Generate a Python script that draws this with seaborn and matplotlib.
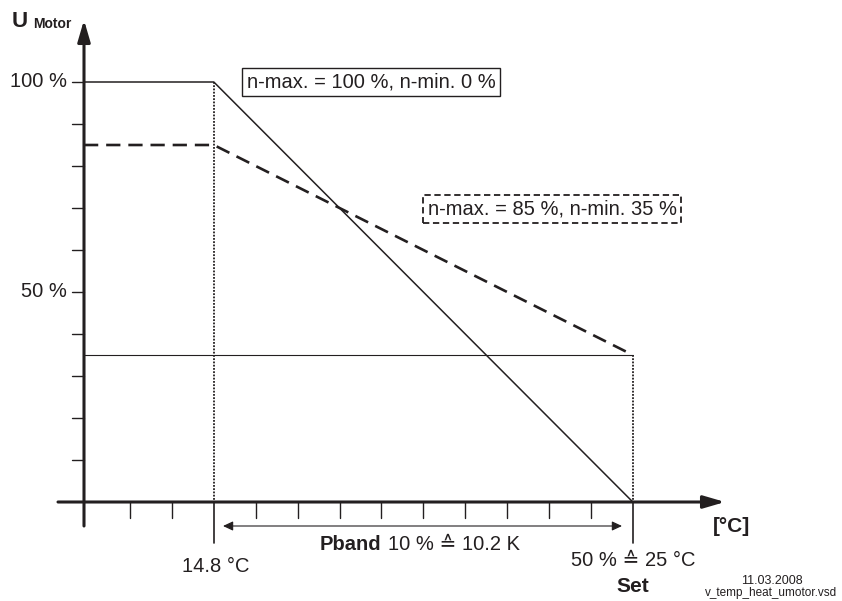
import matplotlib
matplotlib.use("Agg")
import matplotlib.pyplot as plt
import seaborn as sns
import pandas as pd

# Kennlinie U_Motor ueber Temperatur (Heizen)
t_axis = 11.64            # °C an der U-Achse
t_pband_start = 14.8      # Beginn P-Band
t_set = 25.0              # Sollwert
curve_temps = [t_axis, t_pband_start, t_set]
u_full = [100, 100, 0]        # n-max. = 100 %, n-min. 0 %
u_reduced = [85, 85, 35]      # n-max. = 85 %, n-min. 35 %
u_min_reduced = 35
y_ticks = [10, 20, 30, 40, 50, 60, 70, 80, 90, 100]
y_tick_labels = {100: "100 %", 50: "50 %"}
x_ticks = [12.76, 13.78, 15.82, 16.84, 17.86, 18.88, 19.90, 20.92, 21.94, 22.96, 23.98]
x_long_ticks = [t_pband_start, t_set]

DARK = "#231f20"
W, H = 842, 601
PX_K, PX_U = 41.08, 4.2     # pixel pro K / pro %
X0, Y0 = 84, 502            # Ursprung in Pixeln

def px2x(p):
    return t_axis + (p - X0) / PX_K

def px2y(p):
    return (Y0 - p) / PX_U

sns.set_style("white")
plt.rcParams["font.family"] = ["Liberation Sans", "DejaVu Sans"]

fig = plt.figure(figsize=(W / 100, H / 100), dpi=100)
ax = fig.add_axes([0, 0, 1, 1])
ax.set_xlim(px2x(0), px2x(W))
ax.set_ylim(px2y(H), px2y(0))
ax.axis("off")

df = pd.DataFrame({"temp": curve_temps, "full": u_full, "reduced": u_reduced})

# Kennlinien
sns.lineplot(data=df, x="temp", y="full", color=DARK, lw=1.1, estimator=None, sort=False, ax=ax)
sns.lineplot(data=df, x="temp", y="reduced", color=DARK, lw=1.9, estimator=None, sort=False, ax=ax)
ax.lines[-1].set_dashes([5.4, 3.0])
ax.plot([t_axis, t_set], [u_min_reduced, u_min_reduced], color=DARK, lw=0.8)

# gepunktete Hilfslinien
ax.plot([t_pband_start, t_pband_start], [u_full[1], 0], color=DARK, lw=1.3, ls=(0, (1, 0.8)))
ax.plot([t_set, t_set], [u_reduced[2], 0], color=DARK, lw=1.3, ls=(0, (1, 0.8)))

# Achsen mit Pfeilen
arrow_kw = dict(arrowstyle="-|>,head_length=1.3,head_width=0.38", mutation_scale=10,
                lw=2.2, color=DARK, shrinkA=0, shrinkB=0)
ax.annotate("", xy=(px2x(725), 0), xytext=(px2x(58), 0), arrowprops=arrow_kw)
ax.annotate("", xy=(t_axis, px2y(20)), xytext=(t_axis, px2y(526)), arrowprops=arrow_kw)

# Teilstriche
for u in y_ticks:
    ax.plot([px2x(72), t_axis], [u, u], color=DARK, lw=1)
for t in x_ticks:
    ax.plot([t, t], [0, px2y(518)], color=DARK, lw=1)
for t in x_long_ticks:
    ax.plot([t, t], [0, px2y(543)], color=DARK, lw=1.2)

fs = 14.5
for u, lab in y_tick_labels.items():
    ax.text(px2x(67), u, lab, ha="right", va="center", fontsize=fs, color=DARK)

# P-Band Pfeil
ax.annotate("", xy=(px2x(622), px2y(526)), xytext=(px2x(223), px2y(526)),
            arrowprops=dict(arrowstyle="<|-|>,head_length=0.6,head_width=0.28", mutation_scale=10,
                            lw=0.8, color=DARK, shrinkA=0, shrinkB=0))
ax.text(px2x(381), px2y(545), "Pband", ha="right", va="center", fontsize=fs,
        fontweight="bold", color=DARK)
ax.text(px2x(388), px2y(545), "10 % \u2259 10.2 K", ha="left", va="center", fontsize=fs, color=DARK)

ax.text(t_pband_start + 0.05, px2y(566), "14.8 °C", ha="center", va="center", fontsize=fs, color=DARK)
ax.text(t_set, px2y(560), "50 % \u2259 25 °C", ha="center", va="center", fontsize=fs, color=DARK)
ax.text(t_set, px2y(586), "Set", ha="center", va="center", fontsize=15, fontweight="bold", color=DARK)

# Beschriftungskästen
ax.text(px2x(371), px2y(82), "n-max. = 100 %, n-min. 0 %", ha="center", va="center",
        fontsize=fs, color=DARK,
        bbox=dict(boxstyle="square,pad=0.24", fc="white", ec=DARK, lw=1))
ax.text(px2x(552), px2y(209), "n-max. = 85 %, n-min. 35 %", ha="center", va="center",
        fontsize=fs, color=DARK,
        bbox=dict(boxstyle="square,pad=0.22", fc="white", ec=DARK, lw=1.3, ls=(0, (3.5, 2))))

# Achsenbeschriftungen
fig.text(12 / W, 1 - 27 / H, "U", ha="left", va="baseline", fontsize=16, fontweight="bold", color=DARK)
fig.text(33 / W, 1 - 28 / H, "Motor", ha="left", va="baseline", fontsize=10, fontweight="bold", color=DARK)
fig.text(732 / W, 1 - 527 / H, "[°C]", ha="center", va="center", fontsize=15, fontweight="bold", color=DARK)

fig.text(772 / W, 1 - 581 / H, "11.03.2008", ha="center", va="center", fontsize=9, color=DARK)
fig.text(771 / W, 1 - 596 / H, "v_temp_heat_umotor.vsd", ha="center", va="baseline", fontsize=8.5, color=DARK)

fig.savefig("out.png", dpi=100)
plt.close(fig)
